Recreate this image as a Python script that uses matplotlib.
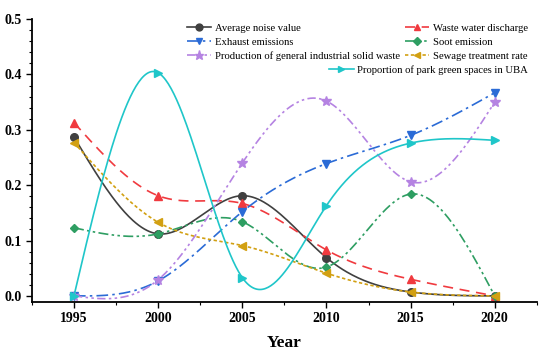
import numpy as np
import matplotlib
matplotlib.use("Agg")
import matplotlib.pyplot as plt
from matplotlib.ticker import MultipleLocator

plt.rcParams['font.family'] = ['Liberation Serif', 'DejaVu Serif']

# data
years = [1995, 2000, 2005, 2010, 2015, 2020]
noise = [0.287, 0.112, 0.181, 0.069, 0.007, 0.0]
waste_water = [0.313, 0.181, 0.167, 0.083, 0.030, 0.0]
exhaust = [0.0, 0.027, 0.152, 0.239, 0.290, 0.367]
soot = [0.123, 0.112, 0.134, 0.052, 0.184, 0.0]
solid_waste = [0.0, 0.029, 0.240, 0.352, 0.206, 0.350]
sewage = [0.277, 0.133, 0.091, 0.041, 0.007, 0.0]
green_space = [0.0, 0.403, 0.033, 0.163, 0.276, 0.281]


# natural cubic spline, used only to draw the smooth connecting lines
def spline(x, y, n=300):
    x = np.asarray(x, float)
    y = np.asarray(y, float)
    h = np.diff(x)
    m = len(x)
    A = np.zeros((m, m))
    b = np.zeros(m)
    A[0, 0] = A[-1, -1] = 1
    for i in range(1, m - 1):
        A[i, i - 1] = h[i - 1]
        A[i, i] = 2 * (h[i - 1] + h[i])
        A[i, i + 1] = h[i]
        b[i] = 3 * ((y[i + 1] - y[i]) / h[i] - (y[i] - y[i - 1]) / h[i - 1])
    c = np.linalg.solve(A, b)
    bb = (y[1:] - y[:-1]) / h - h * (2 * c[:-1] + c[1:]) / 3
    d = (c[1:] - c[:-1]) / (3 * h)
    xs = np.linspace(x[0], x[-1], n)
    idx = np.clip(np.searchsorted(x, xs) - 1, 0, m - 2)
    t = xs - x[idx]
    ys = y[idx] + bb[idx] * t + c[idx] * t ** 2 + d[idx] * t ** 3
    return xs, ys


series = [
    ("Average noise value", noise, '#404040', '-', 'o'),
    ("Waste water discharge", waste_water, '#f03a3f', (0, (6, 4)), '^'),
    ("Exhaust emissions", exhaust, '#2b6bd6', (0, (7, 2.5, 1.5, 2.5)), 'v'),
    ("Soot emission", soot, '#2e9e62', (0, (6, 2, 1.5, 2, 1.5, 2)), 'D'),
    ("Production of general industrial solid waste", solid_waste, '#b583e2', (0, (5, 2, 1.5, 2, 1.5, 2)), '*'),
    ("Sewage treatment rate", sewage, '#d2a012', (0, (2, 1.5)), '<'),
    ("Proportion of park green spaces in UBA", green_space, '#1fc6c9', '-', '>'),
]

fig = plt.figure(figsize=(5.5, 3.54), dpi=100)
ax = fig.add_axes([0.058, 0.147, 0.918, 0.799])

handles = {}
for name, vals, col, ls, mk in series:
    xs, ys = spline(years, vals)
    ax.plot(xs, ys, color=col, linestyle=ls, linewidth=1.2)
    ms = 7.5 if mk == '*' else 5.5
    if mk == 'D':
        ms = 4.5
    ax.plot(years, vals, linestyle='none', marker=mk, color=col, markersize=ms)
    h, = ax.plot([], [], color=col, linestyle=ls, linewidth=1.2, marker=mk, markersize=ms * 0.9)
    handles[name] = h

ax.set_xlim(1992.5, 2022.5)
ax.set_ylim(-0.011, 0.5)
ax.set_xticks(years)
ax.set_yticks([0.0, 0.1, 0.2, 0.3, 0.4, 0.5])
ax.xaxis.set_minor_locator(MultipleLocator(2.5))
ax.yaxis.set_minor_locator(MultipleLocator(0.02))
ax.tick_params(which='major', length=4, width=1, labelsize=10)
ax.tick_params(which='minor', length=2.5, width=0.8)
for lab in ax.get_xticklabels() + ax.get_yticklabels():
    lab.set_fontweight('bold')
ax.yaxis.set_major_formatter(matplotlib.ticker.FormatStrFormatter('%.1f'))
ax.spines['top'].set_visible(False)
ax.spines['right'].set_visible(False)
ax.spines['left'].set_linewidth(1.3)
ax.spines['bottom'].set_linewidth(1.3)
ax.set_xlabel("Year", fontsize=12.5, fontweight='bold', labelpad=7)

order = ["Average noise value", "Exhaust emissions", "Production of general industrial solid waste",
         "Waste water discharge", "Soot emission", "Sewage treatment rate"]
leg1 = ax.legend([handles[n] for n in order], order, ncol=2, frameon=False,
                 fontsize=7.7, handlelength=2.3, handletextpad=0.3, columnspacing=0.5,
                 labelspacing=0.42, borderpad=0, loc='upper right',
                 bbox_to_anchor=(533 / 550, 1 - 18 / 354), bbox_transform=fig.transFigure)
ax.add_artist(leg1)
last = "Proportion of park green spaces in UBA"
ax.legend([handles[last]], [last], frameon=False, fontsize=7.7, handlelength=2.3,
          handletextpad=0.3, borderpad=0, loc='upper right',
          bbox_to_anchor=(533 / 550, 1 - 59.5 / 354), bbox_transform=fig.transFigure)

fig.savefig("out.png", dpi=100)
